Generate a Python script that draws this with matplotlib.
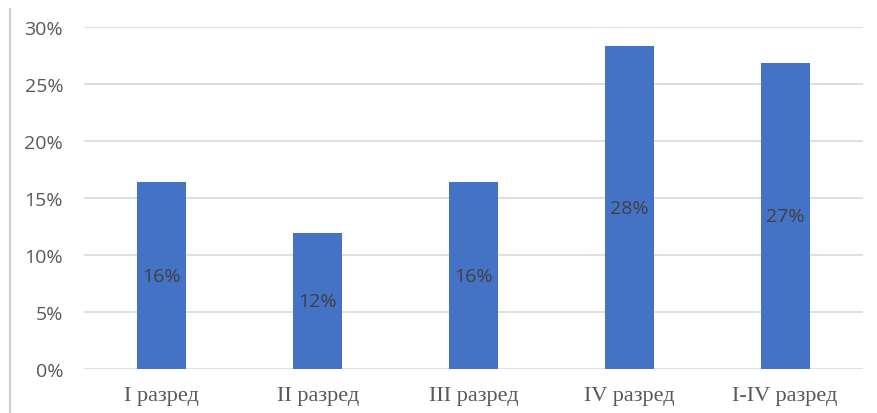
import matplotlib
matplotlib.use("Agg")
import matplotlib.pyplot as plt
from matplotlib.lines import Line2D

categories = ["I разред", "II разред", "III разред", "IV разред", "I-IV разред"]
values = [16.4, 11.9, 16.4, 28.3, 26.8]
labels = ["16%", "12%", "16%", "28%", "27%"]
yticks = [0, 5, 10, 15, 20, 25, 30]
ytick_labels = ["0%", "5%", "10%", "15%", "20%", "25%", "30%"]

W, H = 878, 414
fig = plt.figure(figsize=(W / 100, H / 100), dpi=100)
left, right, top, bottom = 84, 863, 28, 370
ax = fig.add_axes([left / W, 1 - bottom / H, (right - left) / W, (bottom - top) / H])

x = list(range(len(categories)))
bars = ax.bar(x, values, width=0.315, color="#4472C4", zorder=3)
for xi, v, lab in zip(x, values, labels):
    ax.text(xi, v / 2, lab, ha="center", va="center", fontsize=14,
            color="#404040", family="Open Sans", zorder=4)

ax.set_xlim(-0.5, len(categories) - 0.5)
ax.set_ylim(0, 30)
ax.set_yticks(yticks)
ax.set_yticklabels(ytick_labels, fontsize=14, color="#595959", family="Open Sans")
ax.set_xticks(x)
ax.set_xticklabels(categories, fontsize=16, color="#595959", family="Liberation Serif")
ax.tick_params(axis="both", length=0)
ax.tick_params(axis="y", pad=15)
ax.tick_params(axis="x", pad=12)
ax.grid(axis="y", color="#d9d9d9", linewidth=1.2, zorder=0)
for s in ax.spines.values():
    s.set_visible(False)

fig.add_artist(Line2D([10 / W, 10 / W], [1 - 10 / H, 1 - 414 / H],
                      transform=fig.transFigure, color="#d0d0d0", linewidth=1.5))

fig.savefig("out.png", dpi=100)
